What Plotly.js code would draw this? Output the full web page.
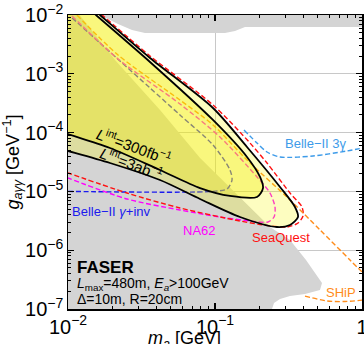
<!DOCTYPE html>
<html><head><meta charset="utf-8">
<script src="https://cdn.plot.ly/plotly-3.0.1.min.js"></script>
<style>html,body{margin:0;padding:0;background:#fff}#chart{width:364px;height:344px}</style>
</head><body><div id="chart"></div>
<script>
// existing constraints (grey)
const greyLowM = [0.009, 0.0118, 0.02088, 0.04225, 0.0791, 0.1479, 0.2366, 0.3237, 0.416, 0.5344, 0.5179, 0.4095, 0.3237, 0.2768, 0.2520, 0.2442, 0.2442, 0.009];
const greyLowG = [0.011, 0.0105, 1.72e-3, 2.42e-4, 3.70e-5, 7.73e-6, 2.48e-6, 1.49e-6, 6.81e-7, 2.77e-7, 2.10e-7, 1.80e-7, 1.66e-7, 1.48e-7, 1.26e-7, 1e-7, 9e-8, 9e-8];
const greyTopM = [0.01651, 1.05, 1.05, 0.16, 0.1368, 0.1169, 0.0334, 0.02725, 0.02189, 0.01703];
const greyTopG = [0.0105, 0.0105, 6.25e-3, 6.25e-3, 5.34e-3, 4.94e-3, 4.94e-3, 5.56e-3, 7.03e-3, 9.61e-3];
// FASER reach, L=3 ab^-1 and 300 fb^-1
const outerM = [0.005, 0.0115, 0.01651, 0.03613, 0.0969, 0.1651, 0.2768, 0.350, 0.3669, 0.3237, 0.2641, 0.1479, 0.0791, 0.04225, 0.0193, 0.01, 0.00883];
const outerG = [0.05, 0.0219, 0.01, 1.86e-3, 2.62e-4, 5.69e-5, 1.19e-5, 5.43e-6, 3.67e-6, 2.69e-6, 2.48e-6, 3.67e-6, 7.43e-6, 1.56e-5, 3.04e-5, 4.87e-5, 5.32e-5];
const innerM = [0.005, 0.0108, 0.0155, 0.03613, 0.0969, 0.1651, 0.2024, 0.2121, 0.1931, 0.1265, 0.0791, 0.04225, 0.0193, 0.01, 0.00883];
const innerG = [0.05, 0.0219, 0.01, 1.59e-3, 1.64e-4, 3.85e-5, 1.76e-5, 1.14e-5, 8.04e-6, 8.36e-6, 1.14e-5, 2.31e-5, 5.47e-5, 9.46e-5, 1.05e-4];
// other experiments
const belleInvM = [0.01, 0.0969, 0.1207, 0.1305, 0.1265, 0.0969, 0.0578, 0.03613, 0.02258, 0.01651, 0.01032];
const belleInvG = [1e-5, 1e-5, 1.10e-5, 1.56e-5, 2.31e-5, 6.15e-5, 1.99e-4, 5.74e-4, 1.65e-3, 3.34e-3, 9.61e-3];
const na62M = [0.01065, 0.02189, 0.0578, 0.1081, 0.1931, 0.2366, 0.2560, 0.2520, 0.2293, 0.1730, 0.1081, 0.0578, 0.0252, 0.01];
const na62G = [9.61e-3, 1.79e-3, 3.06e-4, 8.41e-5, 1.76e-5, 9.39e-6, 5.43e-6, 3.67e-6, 3.02e-6, 3.14e-6, 3.67e-6, 4.83e-6, 7.43e-6, 1.69e-5];
const seaM = [0.01677, 0.03613, 0.0969, 0.1730, 0.2258, 0.3237, 0.3906, 0.3968, 0.3669, 0.3090, 0.2121, 0.1479, 0.0578, 0.0252, 0.01];
const seaG = [1.04e-2, 2.01e-3, 2.95e-4, 6.65e-5, 3.04e-5, 9.39e-6, 5.43e-6, 3.82e-6, 2.90e-6, 2.48e-6, 2.69e-6, 3.14e-6, 5.22e-6, 9.39e-6, 2.06e-5];
const shipUpM = [0.0115, 0.02189, 0.0578, 0.0969, 0.1651, 0.3237, 0.5179, 0.8287, 1.048];
const shipUpG = [1e-2, 2.09e-3, 3.58e-4, 1.35e-4, 3.42e-5, 7.15e-6, 2.21e-6, 6.81e-7, 3.79e-7];
const shipLoM = [0.4095, 0.578, 0.766, 1.016];
const shipLoG = [1.66e-7, 1.37e-7, 1.34e-7, 1.42e-7];
const belle3M = [0.1575, 0.1931, 0.2258, 0.2768, 0.4642, 0.7906, 1.02];
const belle3G = [1.11e-4, 6.65e-5, 4.68e-5, 3.85e-5, 4.0e-5, 4.87e-5, 5.47e-5];

const FONT = '"Liberation Sans", Arial, sans-serif';
const DASH = '5px,2.6px';
function area(x, y, color) {
  return {x, y, type: 'scatter', mode: 'lines', fill: 'toself', fillcolor: color,
    line: {width: 0}, hoverinfo: 'skip', showlegend: false};
}
function dashed(x, y, color) {
  return {x, y, type: 'scatter', mode: 'lines', line: {color, width: 1.4, dash: DASH, shape: 'spline', smoothing: 0.8},
    hoverinfo: 'skip', showlegend: false};
}
function contour(x, y, color) {
  return {x, y, type: 'scatter', mode: 'lines', fill: 'toself', fillcolor: color,
    line: {color: '#000', width: 1.8, shape: 'spline', smoothing: 0.8}, hoverinfo: 'skip', showlegend: false};
}
const data = [
  area(greyLowM, greyLowG, '#d4d4d4'),
  area(greyTopM, greyTopG, '#d4d4d4'),
  dashed(belleInvM, belleInvG, '#1a1aee'),
  dashed(na62M, na62G, '#ff00ff'),
  dashed(seaM, seaG, '#ff1010'),
  dashed(shipUpM, shipUpG, '#ff8c1a'),
  dashed(shipLoM, shipLoG, '#ff8c1a'),
  dashed(belle3M, belle3G, '#3d9be9'),
  contour(outerM, outerG, 'rgba(247,247,3,0.25)'),
  contour(innerM, innerG, 'rgba(240,235,0,0.35)')
];
function ann(text, x, y, color, size, extra) {
  return Object.assign({text, x, y, xref: 'paper', yref: 'paper', showarrow: false,
    xanchor: 'center', yanchor: 'middle',
    font: {family: FONT, size, color}}, extra || {});
}
const axisCommon = {
  type: 'log', showline: true, linecolor: '#000', linewidth: 1.5, mirror: 'allticks',
  ticks: 'inside', ticklen: 6, tickcolor: '#000', tickwidth: 1.2, dtick: 1,
  exponentformat: 'power', showexponent: 'all', automargin: false, ticklabeloverflow: 'allow',
  showgrid: true, gridcolor: '#c8c8c8', gridwidth: 1, zeroline: false,
  tickfont: {family: FONT, size: 16, color: '#000'},
  minor: {ticks: 'inside', ticklen: 3, tickcolor: '#000', tickwidth: 1, dtick: 'D1', showgrid: false}
};
const layout = {
  width: 364, height: 344,
  margin: {l: 68, r: 2, t: 15, b: 35, autoexpand: false},
  paper_bgcolor: '#fff', plot_bgcolor: '#fff',
  showlegend: false,
  xaxis: Object.assign({}, axisCommon, {range: [-2, 0]}),
  yaxis: Object.assign({}, axisCommon, {range: [-7, -2],
    title: {text: '<i>g</i><sub><i>aγγ</i></sub> [GeV<sup>−1</sup>]', font: {family: FONT, size: 18, color: '#000'}, standoff: 6}}),
  annotations: [
    ann('<i>m</i><sub><i>a</i></sub> [GeV]', 0.3946, -0.058, '#000', 18, {yanchor: 'top'}),
    ann('Belle−II 3γ', 0.8435, 0.5646, '#3d9be9', 13),
    ann('Belle−II <i>γ</i>+inv', 0.1463, 0.330, '#1a1aee', 13),
    ann('NA62', 0.4456, 0.2687, '#ff00ff', 13),
    ann('SeaQuest', 0.7245, 0.2415, '#ff1010', 13),
    ann('SHiP', 0.9286, 0.0578, '#ff8c1a', 13),
    ann('<b>FASER</b>', 0.0238, 0.1395, '#000', 17, {xanchor: 'left'}),
    ann('<i>L</i><sub>max</sub>=480m, <i>E</i><sub><i>a</i></sub>>100GeV', 0.0238, 0.085, '#000', 14, {xanchor: 'left'}),
    ann('Δ=10m, R=20cm', 0.0238, 0.034, '#000', 14, {xanchor: 'left'}),
    ann('<i>L</i><sup>int</sup>=300fb<sup>−1</sup>', 0.2245, 0.5545, '#000', 15, {textangle: 20}),
    ann('<i>L</i><sup>int</sup>=3ab<sup>−1</sup>', 0.2143, 0.4966, '#000', 15, {textangle: 21})
  ]
};
Plotly.newPlot('chart', data, layout, {staticPlot: true, displayModeBar: false});
</script></body></html>
